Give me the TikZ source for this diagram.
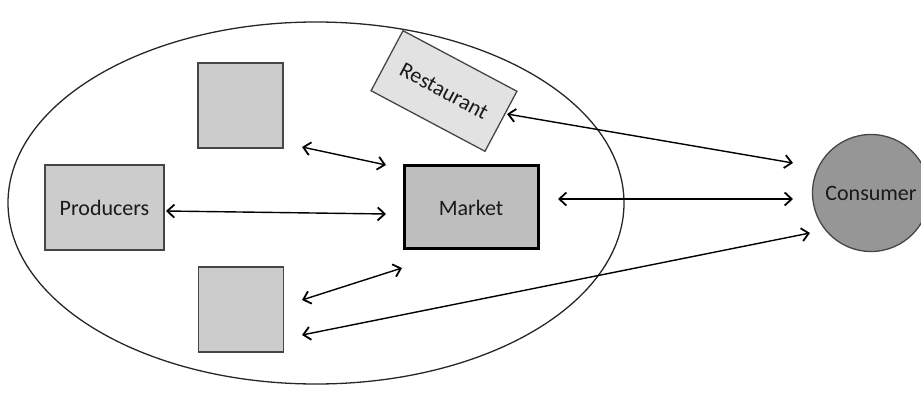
\documentclass[tikz,border=0pt]{standalone}
\usepackage{fontspec}
\setmainfont{Carlito}
\usetikzlibrary{arrows.meta}
\definecolor{boxgray}{RGB}{204,204,204}
\definecolor{restgray}{RGB}{226,226,226}
\definecolor{mktgray}{RGB}{190,190,190}
\definecolor{congray}{RGB}{150,150,150}
\definecolor{edgegray}{RGB}{70,70,70}
\tikzset{
  sqbox/.style={draw=edgegray, line width=1.3pt, fill=boxgray, minimum width=85pt, minimum height=85pt, inner sep=0pt},
  prodbox/.style={draw=edgegray, line width=1.3pt, fill=boxgray, minimum width=119pt, minimum height=85pt, inner sep=0pt},
  mktbox/.style={draw=black, line width=3pt, fill=mktgray, minimum width=134pt, minimum height=83pt, inner sep=0pt},
  restbox/.style={draw=edgegray, line width=1.3pt, fill=restgray, minimum width=129pt, minimum height=68pt, inner sep=0pt, rotate=-28},
  conscircle/.style={draw=edgegray, line width=1.3pt, fill=congray, circle, minimum size=117pt, inner sep=0pt},
  lbl/.style={font=\fontsize{22}{25}\selectfont, text=black!90},
  biarrow/.style={line width=1.4pt, {Straight Barb[length=7pt,width=13pt,line width=1.8pt]}-{Straight Barb[length=7pt,width=13pt,line width=1.8pt]}},
}
\begin{document}
\begin{tikzpicture}[x=1pt,y=-1pt]
\useasboundingbox (0,0) rectangle (921,403);
\begin{scope}
\clip (0,0) rectangle (921,403);
\draw[line width=1.3pt, black!85] (316,203) ellipse [x radius=308, y radius=181];
\node[sqbox] (top) at (240.5,105.5) {};
\node[prodbox, lbl] (prod) at (104.5,207.5) {Producers};
\node[mktbox, lbl] (mkt) at (471,207.5) {Market};
\node[sqbox] (bot) at (241,309.5) {};
\node[restbox, lbl] (rest) at (444,91) {Restaurant};
\node[conscircle, lbl] (cons) at (871,193) {Consumer};
\end{scope}
% connector end points
\coordinate (topA) at (302,147);
\coordinate (topB) at (386,165);
\coordinate (prodA) at (166,211);
\coordinate (prodB) at (386,214);
\coordinate (botA) at (302,300);
\coordinate (botB) at (402,268);
\coordinate (mktA) at (558,199);
\coordinate (mktB) at (793,199);
\coordinate (restA) at (507,114);
\coordinate (restB) at (793,163);
\coordinate (botC) at (302,335);
\coordinate (consC) at (810,233);
\draw[biarrow] (topA) -- (topB);
\draw[biarrow] (prodA) -- (prodB);
\draw[biarrow] (botA) -- (botB);
\draw[biarrow] (mktA) -- (mktB);
\draw[biarrow] (restA) -- (restB);
\draw[biarrow] (botC) -- (consC);
\end{tikzpicture}
\end{document}
